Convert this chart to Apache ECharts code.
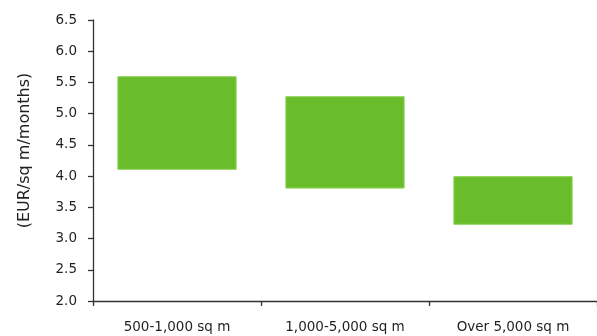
<!DOCTYPE html>
<html>
<head>
<meta charset="utf-8">
<script src="https://cdn.jsdelivr.net/npm/echarts@6/dist/echarts.min.js"></script>
<style>
  html, body { margin: 0; padding: 0; background: #fff; }
  #chart { width: 597px; height: 336px; }
</style>
</head>
<body>
<div id="chart"></div>
<script>
// Rent ranges by unit size (EUR per sq m per month)
const categories = ['500-1,000 sq m', '1,000-5,000 sq m', 'Over 5,000 sq m'];
const rentLow = [4.1, 3.8, 3.22];
const rentHigh = [5.6, 5.28, 4.0];
const yTicks = { min: 2.0, max: 6.5, step: 0.5 };

// Floating bars: an invisible base up to the low value, the range stacked on top
const rangeSpan = rentHigh.map((h, i) => +(h - rentLow[i]).toFixed(2));

const textColor = '#231f20';
const fontFamily = '"DejaVu Sans", "Open Sans", sans-serif';

const chart = echarts.init(document.getElementById('chart'), null, { renderer: 'canvas' });
chart.setOption({
  animation: false,
  grid: { left: 93, right: -4, top: 20, bottom: 35, containLabel: false },
  xAxis: {
    type: 'category',
    data: categories,
    axisLine: { lineStyle: { color: '#333', width: 1.3 } },
    axisTick: { show: true, length: 5, lineStyle: { color: '#333', width: 1.3 } },
    axisLabel: { color: textColor, fontSize: 13.5, fontFamily: fontFamily, margin: 19 },
    splitLine: { show: false }
  },
  yAxis: {
    type: 'value',
    min: yTicks.min,
    max: yTicks.max,
    interval: yTicks.step,
    name: '(EUR/sq m/months)',
    nameLocation: 'middle',
    nameGap: 60,
    nameRotate: 90,
    nameTextStyle: { color: textColor, fontSize: 16, fontFamily: fontFamily, padding: [0, 0, 0, 20] },
    axisLine: { show: true, lineStyle: { color: '#333', width: 1.3 } },
    axisTick: { show: true, length: 5, lineStyle: { color: '#333', width: 1.3 } },
    axisLabel: {
      color: textColor, fontSize: 13.5, fontFamily: fontFamily, margin: 16,
      formatter: v => v.toFixed(1)
    },
    splitLine: { show: false }
  },
  series: [
    {
      type: 'bar',
      stack: 'range',
      data: rentLow,
      itemStyle: { color: 'transparent' },
      barCategoryGap: '29%',
      silent: true
    },
    {
      type: 'bar',
      stack: 'range',
      data: rangeSpan,
      itemStyle: { color: '#6abd2a', borderColor: '#8fd45f', borderWidth: 1 },
      barCategoryGap: '29%'
    }
  ]
});
</script>
</body>
</html>
